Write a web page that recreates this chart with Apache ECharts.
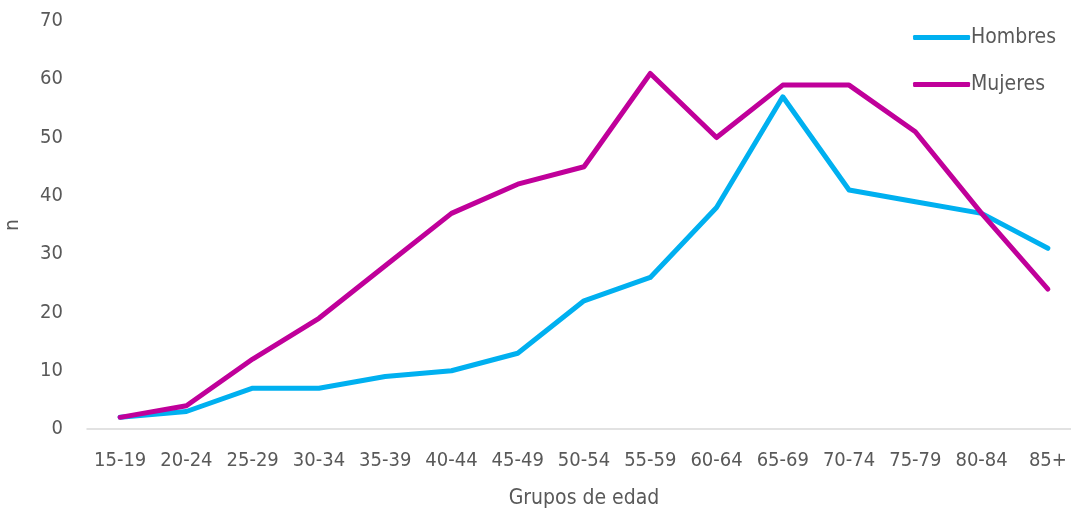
<!DOCTYPE html>
<html><head><meta charset="utf-8">
<script src="https://cdn.jsdelivr.net/npm/echarts@6/dist/echarts.min.js"></script>
<style>html,body{margin:0;padding:0;background:#fff}#c{width:1071px;height:512px}</style>
</head><body><div id="c"></div>
<script>
const categories = ['15-19','20-24','25-29','30-34','35-39','40-44','45-49','50-54','55-59','60-64','65-69','70-74','75-79','80-84','85+'];
const hombres = [2, 3, 7, 7, 9, 10, 13, 22, 26, 38, 57, 41, 39, 37, 31];
const mujeres = [2, 4, 12, 19, 28, 37, 42, 45, 61, 50, 59, 59, 51, 37, 24];
const yTicks = [0, 10, 20, 30, 40, 50, 60, 70];

const FONT = "'Liberation Sans Narrow', 'DejaVu Sans Condensed', 'Open Sans', sans-serif";
const chart = echarts.init(document.getElementById('c'), null, {renderer: 'canvas'});
chart.setOption({
  animation: false,
  textStyle: {fontFamily: FONT, color: '#595959'},
  grid: {left: 87, width: 994, top: 21, bottom: 83, containLabel: false, outerBoundsMode: 'none'},
  legend: {
    orient: 'vertical', right: 10, top: 22, itemWidth: 57, itemHeight: 5, itemGap: 26,
    icon: 'roundRect',
    textStyle: {fontFamily: FONT, fontSize: 21, color: '#595959', padding: [0,0,0,-4]},
    data: ['Hombres', 'Mujeres']
  },
  xAxis: {
    type: 'category', data: categories, boundaryGap: true,
    name: 'Grupos de edad', nameLocation: 'middle', nameGap: 59,
    nameTextStyle: {fontFamily: FONT, fontSize: 21, color: '#595959'},
    axisLine: {lineStyle: {color: '#d9d9d9', width: 1.5}},
    axisTick: {show: false},
    axisLabel: {fontFamily: FONT, fontSize: 20, color: '#595959', margin: 22, interval: 0}
  },
  yAxis: {
    type: 'value', min: yTicks[0], max: yTicks[yTicks.length-1], interval: 10,
    name: 'n', nameLocation: 'middle', nameGap: 64, nameRotate: 90,
    nameTextStyle: {fontFamily: FONT, fontSize: 20, color: '#595959'},
    axisLine: {show: false}, axisTick: {show: false}, splitLine: {show: false},
    axisLabel: {fontFamily: FONT, fontSize: 20, color: '#595959', margin: 24}
  },
  series: [
    {name: 'Hombres', type: 'line', data: hombres, symbol: 'none', lineStyle: {color: '#00B0F0', width: 5, cap: 'round', join: 'round'}, itemStyle: {color: '#00B0F0'}},
    {name: 'Mujeres', type: 'line', data: mujeres, symbol: 'none', lineStyle: {color: '#C0009A', width: 5, cap: 'round', join: 'round'}, itemStyle: {color: '#C0009A'}}
  ]
});
</script></body></html>
